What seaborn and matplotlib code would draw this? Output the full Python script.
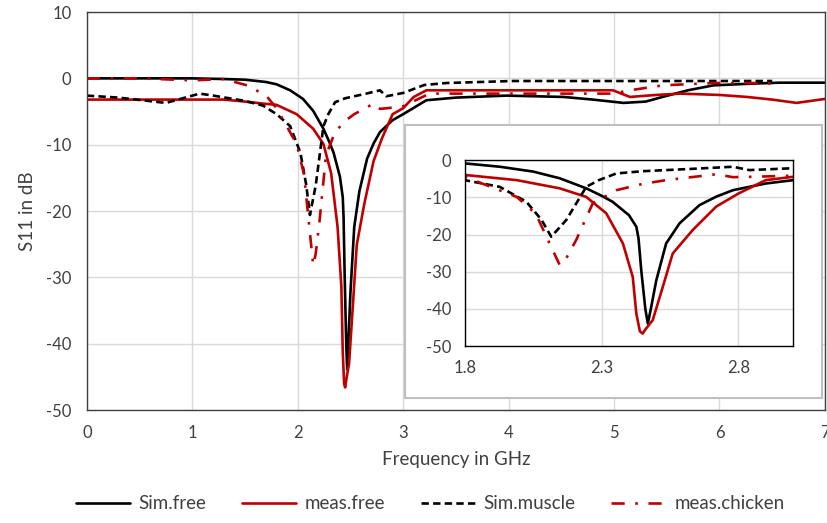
import numpy as np
import pandas as pd
import matplotlib
matplotlib.use("Agg")
import matplotlib.pyplot as plt
import seaborn as sns

# Datos (frecuencia en GHz, S11 en dB)
sim_free_f = [0, 0.5, 1.0, 1.3, 1.5, 1.7, 1.8, 1.928, 2.05, 2.147, 2.244, 2.30, 2.34, 2.40,
              2.427, 2.435, 2.445, 2.46, 2.469, 2.48, 2.50, 2.536, 2.585, 2.658, 2.72,
              2.78, 2.90, 3.0, 3.22, 3.5, 3.98, 4.52, 4.8, 5.09, 5.3, 5.46, 5.7, 5.94,
              6.3, 6.57, 7.0]
sim_free_db = [0, 0, 0, -0.1, -0.2, -0.55, -0.9, -1.8, -3.1, -4.9, -7.6, -9.6, -11.2, -14.8,
               -17.9, -21.0, -29.6, -40.0, -43.9, -40.0, -32.3, -22.4, -17.0, -12.1, -9.8,
               -8.1, -6.3, -5.4, -3.3, -2.9, -2.6, -2.8, -3.2, -3.7, -3.5, -2.8, -1.8, -1.06,
               -0.8, -0.65, -0.65]

meas_free_f = [0, 0.5, 1.0, 1.3, 1.5, 1.67, 1.8, 1.99, 2.147, 2.244, 2.317, 2.378, 2.414,
               2.427, 2.44, 2.45, 2.46, 2.487, 2.524, 2.56, 2.633, 2.719, 2.80, 2.90, 3.0,
               3.1, 3.22, 4.0, 4.99, 5.15, 5.4, 5.63, 6.0, 6.26, 6.5, 6.73, 7.0]
meas_free_db = [-3.2, -3.2, -3.2, -3.2, -3.5, -3.8, -4.0, -5.4, -7.6, -9.9, -14.3, -22.4,
                -31.4, -41.2, -46.0, -46.6, -45.5, -43.0, -34.0, -25.1, -18.8, -12.5, -9.0,
                -5.4, -4.5, -2.8, -1.8, -1.8, -1.8, -2.8, -2.5, -2.3, -2.5, -2.8, -3.2,
                -3.7, -3.1]

sim_muscle_f = [0, 0.3, 0.75, 1.07, 1.2, 1.5, 1.67, 1.8, 1.928, 2.025, 2.08, 2.116, 2.171,
                2.244, 2.29, 2.354, 2.45, 2.536, 2.65, 2.78, 2.84, 3.0, 3.2, 3.41, 4.04,
                5.0, 6.0, 6.5]
sim_muscle_db = [-2.6, -2.9, -3.7, -2.3, -2.6, -3.4, -4.1, -5.4, -7.2, -11.2, -16.0, -20.6,
                 -16.1, -7.2, -5.4, -3.6, -3.0, -2.7, -2.3, -1.8, -2.7, -2.2, -1.0, -0.7,
                 -0.4, -0.4, -0.4, -0.4]

chicken_f = [0, 0.5, 1.0, 1.3, 1.52, 1.70, 1.8, 1.99, 2.06, 2.11, 2.147, 2.17, 2.207, 2.268,
             2.354, 2.45, 2.536, 2.72, 2.78, 2.85, 3.0, 3.25, 4.36, 4.99, 5.15, 5.46, 5.94,
             6.3, 6.54]
chicken_db = [0, 0, -0.3, -0.1, -1.06, -2.6, -4.5, -9.9, -14.5, -22.4, -28.2, -26.5, -21.5,
              -11.6, -8.1, -6.4, -5.4, -3.8, -4.6, -4.5, -4.2, -2.3, -2.3, -2.3, -1.8,
              -1.06, -0.7, -0.7, -0.8]

series = [
    ("Sim.free", sim_free_f, sim_free_db, "black", "-"),
    ("meas.free", meas_free_f, meas_free_db, "#C00000", "-"),
    ("Sim.muscle", sim_muscle_f, sim_muscle_db, "black", (0, (2.8, 1.6))),
    ("meas.chicken", chicken_f, chicken_db, "#C00000", (0, (5, 4, 1, 4))),
]

sns.set_style("white")
plt.rcParams["font.family"] = ["Lato", "DejaVu Sans"]
plt.rcParams["axes.unicode_minus"] = False
grid_col = "#d9d9d9"
txt_col = "#404040"


def dibujar(ax, lw, leyenda):
    for nombre, f, db, col, ls in series:
        df = pd.DataFrame({"f": f, "db": db})
        sns.lineplot(data=df, x="f", y="db", ax=ax, color=col, linestyle=ls,
                     linewidth=lw, sort=False, estimator=None,
                     label=nombre if leyenda else None, legend=False)


fig = plt.figure(figsize=(8.27, 5.23), dpi=100)
ax = fig.add_axes([0.105, 0.216, 0.8925, 0.761])
dibujar(ax, 1.9, True)
ax.set_xlim(0, 7)
ax.set_ylim(-50, 10)
ax.set_xticks(range(0, 8))
ax.set_yticks(range(-50, 11, 10))
ax.grid(True, color=grid_col, linewidth=1)
ax.tick_params(length=0, labelsize=12, colors=txt_col, pad=11)
ax.set_xlabel("Frequency in GHz", fontsize=13.5, color=txt_col, labelpad=7)
ax.set_ylabel("S11 in dB", fontsize=13.5, color=txt_col, labelpad=7)
for s in ax.spines.values():
    s.set_color("#404040")
    s.set_linewidth(1)

# Recuadro gris del inset
box = fig.add_axes([0.490, 0.239, 0.504, 0.522], zorder=2)
box.set_xticks([])
box.set_yticks([])
box.set_facecolor("white")
for s in box.spines.values():
    s.set_color("#bfbfbf")
    s.set_linewidth(1.5)

ins = fig.add_axes([0.562, 0.338, 0.397, 0.356], zorder=3)
dibujar(ins, 1.9, False)
ins.set_xlim(1.8, 3.0)
ins.set_ylim(-50, 0)
ins.set_xticks([1.8, 2.3, 2.8])
ins.set_xticklabels(["1.8", "2.3", "2.8"])
ins.set_yticks(range(-50, 1, 10))
ins.grid(True, color=grid_col, linewidth=1)
ins.tick_params(length=0, labelsize=12, colors=txt_col, pad=10)
ins.set_xlabel("")
ins.set_ylabel("")
for s in ins.spines.values():
    s.set_color("black")
    s.set_linewidth(1)

h, l = ax.get_legend_handles_labels()
fig.legend(h, l, loc="lower center", bbox_to_anchor=(0.52, -0.012), ncol=4,
           frameon=False, fontsize=13.5, handlelength=2.9, handletextpad=0.45,
           columnspacing=1.9, labelcolor=txt_col)

fig.savefig("out.png", dpi=100)
